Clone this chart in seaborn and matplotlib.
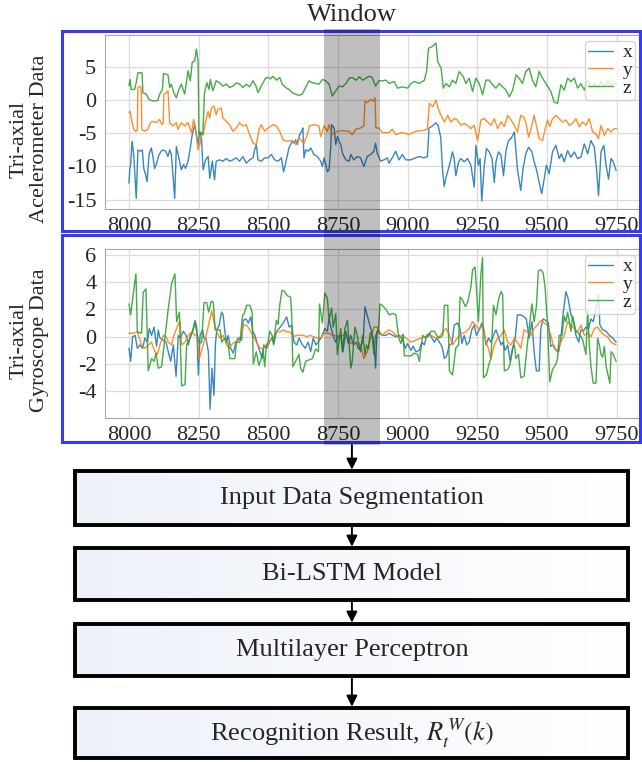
import numpy as np
import pandas as pd
import matplotlib
matplotlib.use("Agg")
import matplotlib.pyplot as plt
import seaborn as sns
from matplotlib.patches import Rectangle
from matplotlib.lines import Line2D

# ---------------- data ----------------
acc_z_t = [8000, 8004, 8008, 8020, 8026, 8032, 8047, 8050, 8062, 8072, 8086, 8104, 8110, 8120, 8124, 8140, 8146, 8152, 8161, 8170,
           8179, 8188, 8200, 8212, 8220, 8227, 8236, 8242, 8248, 8251, 8260, 8265, 8271, 8280, 8287, 8292, 8301, 8313, 8325, 8337,
           8349, 8361, 8373, 8385, 8397, 8409, 8421, 8433, 8445, 8455, 8463, 8472, 8481, 8490, 8499, 8508, 8517, 8529, 8541, 8550,
           8562, 8574, 8586, 8598, 8610, 8622, 8634, 8646, 8658, 8670, 8682, 8694, 8706, 8718, 8730, 8742, 8754, 8766, 8779, 8790,
           8801, 8815, 8827, 8839, 8851, 8861, 8873, 8885, 8897, 8909, 8922, 8934, 8952, 8964, 8982, 9000, 9012, 9024, 9042, 9060,
           9068, 9075, 9090, 9102, 9108, 9120, 9128, 9138, 9150, 9161, 9173, 9185, 9200, 9209, 9221, 9233, 9245, 9257, 9269, 9281,
           9293, 9305, 9317, 9329, 9341, 9353, 9365, 9377, 9389, 9400, 9412, 9424, 9436, 9448, 9460, 9472, 9484, 9496, 9514, 9526,
           9538, 9550, 9562, 9574, 9586, 9598, 9610, 9622, 9634, 9646, 9658, 9670, 9682, 9694, 9706, 9718, 9730, 9742, 9750]
acc_z = [2.2, 3.1, 1.6, 1.6, 2.6, 4.1, 4.1, 1.1, 0.9, 0.1, -0.15, -0.05, 0.9, 1.6, 4.0, 3.8, 1.9, 2.4, 1.1, 0.35,
         1.6, 2.4, 0.9, 4.4, 2.9, 5.7, 5.9, 7.7, 5.9, -5.2, -4.9, -5.2, 1.1, 2.6, 1.6, 3.1, 1.4, 2.9, 2.6, 2.1,
         2.4, 1.9, 2.1, 2.6, 2.4, 1.9, 2.4, 2.0, 2.9, 2.2, 1.1, 1.9, 2.6, 3.3, 3.4, 3.2, 3.6, 3.0, 3.4, 2.4,
         1.9, 1.6, 1.1, 0.9, 0.7, 0.9, 1.9, 2.9, 2.6, 2.5, 2.4, 3.1, 2.9, 2.4, 0.6, 1.4, 2.1, 2.0, 2.5, 3.3,
         3.4, 3.0, 3.5, 3.0, 3.3, 3.6, 3.4, 2.1, 2.9, 2.9, 3.0, 2.5, 2.8, 1.8, 2.0, 1.8, 2.5, 2.8, 2.5, 3.0,
         4.3, 7.8, 8.1, 8.6, 5.8, 4.8, 1.8, 2.5, 2.0, 3.0, 2.5, 4.3, 3.5, 2.5, 3.3, 1.3, 3.3, 2.5, 0.8, 3.0,
         3.0, 2.3, 1.8, 2.5, 2.0, 1.5, 0.5, 1.5, 3.8, 3.3, 2.5, 4.3, 4.8, 3.0, 2.0, 4.3, 3.3, 2.5, 1.3, -0.3,
         -0.5, 2.3, 1.5, 3.3, 2.8, 3.3, 1.8, 2.5, 1.5, 3.0, 1.8, 2.5, 1.8, 2.8, 2.0, 3.0, 2.2, 2.6, 2.4]

acc_y_t = [8000, 8004, 8010, 8017, 8024, 8030, 8032, 8041, 8044, 8046, 8056, 8068, 8077, 8086, 8098, 8110, 8118, 8123, 8125, 8134,
           8140, 8146, 8158, 8170, 8176, 8188, 8200, 8212, 8224, 8232, 8240, 8248, 8254, 8260, 8266, 8275, 8284, 8290, 8296, 8305,
           8313, 8319, 8331, 8337, 8349, 8361, 8373, 8385, 8397, 8409, 8421, 8433, 8445, 8457, 8467, 8475, 8487, 8499, 8517, 8529,
           8541, 8553, 8568, 8586, 8598, 8610, 8628, 8640, 8648, 8664, 8682, 8688, 8700, 8712, 8718, 8730, 8748, 8766, 8790, 8801,
           8813, 8831, 8843, 8847, 8855, 8867, 8877, 8883, 8886, 8897, 8909, 8933, 8945, 8957, 8981, 9005, 9029, 9053, 9071, 9078,
           9090, 9102, 9111, 9120, 9132, 9144, 9155, 9167, 9179, 9191, 9203, 9215, 9227, 9239, 9251, 9263, 9275, 9287, 9299, 9311,
           9323, 9335, 9347, 9359, 9371, 9383, 9394, 9406, 9416, 9424, 9434, 9446, 9454, 9462, 9472, 9484, 9494, 9502, 9510, 9520,
           9532, 9544, 9556, 9568, 9580, 9592, 9604, 9616, 9628, 9640, 9652, 9664, 9676, 9685, 9694, 9706, 9718, 9730, 9742, 9750]
acc_y = [-1.9, -1.7, -3.2, -4.4, -4.7, -4.6, 1.9, 2.1, 1.6, -4.4, -4.7, -4.4, -3.4, -3.2, -3.4, -2.9, -3.7, -3.5, 0.9, 1.1,
         1.4, -3.4, -3.9, -3.4, -4.4, -3.4, -3.9, -3.4, -4.9, -2.9, -4.7, -7.5, -6.7, -5.2, -5.2, -3.2, -1.7, -2.7, -1.2, -0.9,
         -2.2, -1.4, -1.2, -2.7, -3.2, -3.7, -4.7, -4.2, -3.4, -3.9, -3.7, -5.2, -6.5, -6.7, -4.4, -3.7, -4.7, -4.2, -3.7, -3.9,
         -4.7, -6.0, -6.2, -6.1, -6.7, -5.7, -6.5, -5.2, -3.9, -3.7, -3.9, -5.5, -3.9, -4.7, -3.7, -5.2, -4.7, -4.6, -4.7, -5.2,
         -4.4, -4.2, -3.9, -0.15, -0.4, 0.1, -0.15, 0.35, -4.2, -4.2, -4.9, -4.9, -4.4, -5.2, -4.9, -5.2, -4.7, -4.6, -4.4, -0.5,
         -1.0, 0.0, -1.5, -2.3, -3.3, -2.3, -3.3, -2.8, -3.0, -3.8, -3.5, -3.8, -4.3, -3.8, -6.1, -3.0, -2.8, -3.3, -3.8, -2.8,
         -4.3, -3.3, -4.0, -2.3, -3.0, -3.8, -4.8, -2.3, -2.5, -3.3, -5.6, -3.8, -2.3, -3.8, -5.8, -6.1, -4.3, -3.0, -4.0, -2.8,
         -2.3, -2.8, -3.3, -3.0, -3.8, -3.5, -2.8, -4.0, -3.3, -3.8, -2.8, -4.8, -5.1, -5.8, -3.8, -5.3, -4.3, -4.8, -4.3, -4.3]

acc_x_t = [8000, 8003, 8006, 8011, 8017, 8026, 8032, 8041, 8048, 8053, 8060, 8065, 8072, 8080, 8086, 8092, 8098, 8108, 8116, 8122,
           8132, 8140, 8146, 8152, 8158, 8164, 8170, 8179, 8188, 8196, 8203, 8212, 8220, 8227, 8236, 8242, 8248, 8254, 8260, 8266,
           8275, 8284, 8290, 8299, 8307, 8313, 8325, 8337, 8349, 8361, 8373, 8385, 8397, 8409, 8421, 8433, 8445, 8451, 8457, 8463,
           8475, 8487, 8499, 8511, 8523, 8535, 8547, 8555, 8565, 8574, 8580, 8586, 8592, 8598, 8604, 8612, 8620, 8624, 8628, 8634,
           8644, 8652, 8664, 8676, 8688, 8694, 8700, 8706, 8712, 8718, 8724, 8727, 8736, 8742, 8748, 8754, 8760, 8766, 8778, 8790,
           8796, 8807, 8819, 8831, 8843, 8855, 8867, 8879, 8885, 8891, 8903, 8915, 8927, 8933, 8945, 8957, 8969, 8981, 8993, 9011,
           9029, 9041, 9059, 9071, 9077, 9089, 9101, 9110, 9119, 9125, 9131, 9138, 9150, 9161, 9167, 9173, 9183, 9191, 9203, 9215,
           9227, 9239, 9245, 9254, 9260, 9266, 9275, 9283, 9293, 9303, 9311, 9317, 9326, 9335, 9344, 9353, 9362, 9371, 9383, 9394,
           9406, 9414, 9424, 9434, 9446, 9454, 9462, 9472, 9481, 9490, 9498, 9508, 9520, 9532, 9544, 9552, 9562, 9574, 9586, 9598,
           9610, 9622, 9634, 9646, 9658, 9670, 9678, 9685, 9694, 9704, 9712, 9721, 9730, 9738, 9748]
acc_x = [-12.5, -10.3, -9.7, -6.2, -8.2, -14.8, -7.5, -7.7, -7.5, -10.3, -11.3, -12.3, -8.2, -7.2, -8.5, -10.3, -9.7, -8.2, -7.7, -7.5,
         -7.7, -8.5, -7.5, -8.2, -11.3, -14.8, -7.0, -8.7, -10.5, -9.7, -10.3, -9.2, -7.2, -5.2, -3.7, -5.2, -6.7, -4.7, -5.7, -10.5,
         -9.0, -8.5, -11.8, -9.2, -12.0, -9.2, -9.0, -9.2, -8.8, -9.2, -9.0, -8.7, -9.2, -8.5, -9.5, -9.0, -8.7, -7.5, -6.7, -9.0,
         -9.2, -8.7, -8.7, -8.2, -9.0, -9.2, -8.7, -10.8, -9.0, -7.2, -6.7, -6.2, -6.5, -6.0, -6.7, -5.2, -4.7, -4.2, -8.7, -7.5,
         -7.7, -7.2, -8.2, -8.5, -9.2, -10.0, -8.7, -9.7, -10.8, -10.5, -7.2, -3.7, -4.2, -6.7, -5.5, -6.2, -6.7, -8.0, -9.0, -9.2,
         -8.2, -9.0, -8.5, -8.7, -10.0, -8.5, -8.2, -7.7, -6.5, -8.0, -9.2, -9.0, -8.7, -9.5, -8.7, -7.7, -9.0, -8.2, -9.0, -9.0,
         -8.7, -8.5, -8.7, -8.5, -4.2, -3.9, -3.4, -3.9, -5.7, -10.3, -13.0, -11.6, -9.8, -7.8, -8.8, -11.4, -9.3, -8.8, -9.3, -8.8,
         -9.8, -13.1, -6.8, -9.8, -8.8, -15.2, -9.8, -7.3, -7.8, -8.8, -12.4, -9.3, -7.8, -8.3, -11.4, -7.6, -6.1, -5.8, -4.8, -10.4,
         -13.6, -10.4, -8.1, -7.1, -7.8, -9.3, -10.4, -12.4, -14.1, -11.9, -9.8, -11.1, -7.8, -6.8, -8.8, -8.1, -9.3, -7.6, -8.6, -7.8,
         -8.8, -8.6, -6.6, -8.1, -6.1, -7.1, -10.4, -14.4, -7.8, -6.8, -9.8, -11.9, -8.8, -9.3, -10.6]

gyr_z_t = [8000, 8006, 8016, 8025, 8030, 8045, 8051, 8061, 8069, 8081, 8090, 8097, 8105, 8117, 8129, 8141, 8153, 8165, 8171, 8181,
           8189, 8201, 8207, 8219, 8228, 8237, 8243, 8252, 8261, 8269, 8279, 8286, 8295, 8303, 8309, 8327, 8333, 8344, 8356, 8362,
           8380, 8386, 8398, 8408, 8414, 8422, 8434, 8442, 8446, 8457, 8466, 8475, 8481, 8487, 8493, 8499, 8505, 8514, 8519, 8525,
           8529, 8535, 8541, 8549, 8559, 8568, 8580, 8584, 8588, 8598, 8610, 8616, 8624, 8634, 8646, 8658, 8670, 8680, 8684, 8694,
           8703, 8712, 8718, 8727, 8733, 8742, 8748, 8760, 8766, 8775, 8784, 8790, 8796, 8801, 8811, 8819, 8825, 8831, 8839, 8847,
           8852, 8859, 8865, 8871, 8879, 8885, 8895, 8901, 8909, 8922, 8934, 8946, 8958, 8968, 8976, 8984, 8988, 9000, 9012, 9024,
           9036, 9042, 9054, 9066, 9075, 9084, 9096, 9104, 9114, 9126, 9132, 9144, 9150, 9161, 9173, 9183, 9188, 9197, 9207, 9215,
           9227, 9233, 9242, 9247, 9254, 9263, 9269, 9272, 9283, 9293, 9299, 9308, 9317, 9326, 9335, 9341, 9347, 9359, 9368, 9377,
           9383, 9389, 9398, 9406, 9418, 9430, 9442, 9446, 9454, 9462, 9469, 9478, 9486, 9493, 9502, 9510, 9520, 9532, 9538, 9544,
           9554, 9562, 9568, 9574, 9580, 9586, 9592, 9604, 9616, 9628, 9640, 9646, 9652, 9658, 9666, 9676, 9682, 9688, 9694, 9700,
           9706, 9712, 9718, 9726, 9730, 9738, 9748]
gyr_z = [2.4, 1.6, 3.25, 4.6, 0.35, 0.25, 3.25, 3.5, -2.5, -1.6, -1.8, -1.2, -2.3, -2.2, -0.1, 2.05, 3.9, 4.6, 1.1, 1.8,
         -3.6, -3.5, -0.6, -0.1, 0.35, 1.0, 0.35, -0.5, -0.4, 2.5, 2.5, 1.8, 2.6, 2.5, 0.5, 0.5, -0.4, -0.1, -0.5, -1.6,
         -1.6, -0.4, -0.4, 1.6, 1.7, 2.3, 2.3, 1.8, -2.0, -1.1, -2.1, -1.6, -0.9, -2.2, -0.6, -0.4, 0.4, 0.1, -0.6, 0.6,
         1.2, 0.9, 2.3, 3.4, 3.3, 3.0, 2.9, 1.6, -2.2, -1.8, -1.3, -2.3, -2.6, -1.8, -1.7, -1.6, -0.9, -1.1, 2.4, 1.0,
         3.2, 2.8, 1.2, 2.1, 0.7, 1.7, -1.3, 0.6, -1.1, 0.6, 1.2, -0.6, -2.3, -1.8, 0.7, 0.1, -0.6, -1.1, 0.1, -1.3,
         -0.6, -0.9, 0.2, 0.4, -1.3, 0.1, 0.4, 2.4, 2.3, 2.0, 1.6, 1.7, 1.6, -0.1, -0.5, 0.2, -1.4, -1.4, -1.4, -1.2,
         -1.3, -1.8, 0.1, -0.1, 0.1, 0.4, 0.4, 0.1, -0.1, 0.1, 2.3, 2.3, -2.5, -2.8, -0.8, -0.6, 2.9, 2.7, 2.2, 2.5,
         3.6, 4.9, 5.1, 3.5, 1.1, 4.6, 5.8, -3.0, -2.8, -1.9, -1.6, 2.3, 1.6, 2.7, 3.3, 3.1, -2.5, -2.4, -2.0, -0.8,
         -0.6, -1.6, -1.3, -3.0, -2.9, -0.5, 1.7, 2.4, 1.1, 2.2, 4.8, 4.9, 4.7, 3.7, 1.0, -3.3, -2.4, -2.0, -1.6, 0.1,
         0.1, 1.5, 1.1, 1.8, 1.1, 0.4, 1.5, 0.4, 0.2, -0.2, -1.3, 2.0, -0.6, -2.2, -3.4, -3.4, -0.1, -0.6, -1.3, -1.5,
         -0.7, -2.1, -2.7, -3.4, -1.1, -1.3, -1.8]

gyr_x_t = [8000, 8006, 8013, 8022, 8030, 8039, 8049, 8057, 8066, 8073, 8081, 8090, 8099, 8105, 8111, 8123, 8133, 8141, 8150, 8159,
           8169, 8177, 8185, 8195, 8205, 8213, 8221, 8228, 8237, 8243, 8249, 8255, 8264, 8269, 8276, 8285, 8291, 8298, 8305, 8310,
           8315, 8324, 8332, 8338, 8344, 8350, 8356, 8365, 8374, 8384, 8392, 8404, 8410, 8420, 8428, 8437, 8444, 8452, 8460, 8470,
           8478, 8484, 8494, 8504, 8512, 8520, 8530, 8539, 8548, 8556, 8566, 8575, 8584, 8592, 8602, 8611, 8620, 8632, 8643, 8652,
           8661, 8671, 8679, 8689, 8703, 8712, 8718, 8727, 8736, 8742, 8751, 8760, 8768, 8778, 8787, 8796, 8805, 8815, 8824, 8832,
           8841, 8847, 8856, 8864, 8871, 8880, 8885, 8890, 8897, 8909, 8922, 8934, 8946, 8958, 8970, 8982, 8992, 9000, 9012, 9020,
           9030, 9042, 9051, 9060, 9068, 9078, 9087, 9096, 9104, 9114, 9123, 9132, 9140, 9150, 9159, 9167, 9179, 9188, 9195, 9203,
           9212, 9221, 9230, 9239, 9247, 9257, 9266, 9275, 9281, 9290, 9299, 9308, 9317, 9326, 9335, 9341, 9350, 9359, 9368, 9377,
           9386, 9394, 9406, 9418, 9426, 9436, 9446, 9454, 9462, 9472, 9478, 9486, 9496, 9505, 9514, 9523, 9532, 9542, 9550, 9558,
           9568, 9576, 9586, 9594, 9604, 9614, 9622, 9630, 9640, 9649, 9658, 9666, 9676, 9685, 9690, 9700, 9712, 9724, 9736, 9748]
gyr_x = [-0.85, -1.8, 0.0, 0.1, -0.85, -0.6, -0.85, -0.1, -0.4, 0.6, 0.1, 0.7, -0.7, 0.5, -0.1, -0.25, -0.4, -1.1, -1.8, -0.6,
         -2.9, 0.1, -0.1, 0.4, 0.1, -0.6, 0.1, 0.4, 1.2, 0.7, -2.8, 0.1, 0.5, -0.1, -0.1, -1.1, -5.3, -2.3, -4.3, -0.6,
         0.5, 0.85, 1.8, 1.6, 0.4, -0.4, 0.1, -0.85, -1.2, -0.4, -0.1, -0.25, 1.2, 1.3, 1.0, 1.45, 0.4, 0.1, -0.5, -1.1,
         -1.6, -0.6, -0.85, -0.4, -0.1, -0.5, 0.4, 0.6, 0.85, 1.1, 1.45, 0.7, 0.85, -0.4, -0.6, -0.1, -0.5, -0.85, -0.4, -1.1,
         -0.1, -0.6, -0.4, -0.1, 0.6, 0.4, 1.3, 0.5, -0.1, -0.4, 0.0, 0.1, -1.1, 0.4, -0.5, 0.1, -0.6, -0.4, -0.9, -0.7,
         -0.1, 2.2, 1.5, 0.85, 0.4, -0.6, -2.3, 0.4, 0.4, 0.1, 0.1, 0.25, 0.1, 0.0, 0.1, -0.25, -0.85, -0.5, -1.0, -0.7,
         -1.1, -1.0, -0.4, -0.6, 0.1, 0.25, -0.1, -0.4, -0.1, -0.4, -0.7, -1.6, -1.4, -0.6, -0.5, 0.85, 1.0, 0.6, -0.5, 0.1,
         -0.6, -0.4, 0.5, 0.85, 0.1, 0.5, 1.0, 0.4, -0.6, -0.1, -0.4, 0.1, 0.5, 0.0, -0.6, -0.4, -1.0, -0.6, -1.8, -0.85,
         -0.1, 1.6, 1.6, 1.45, 1.3, -0.1, 1.1, -1.1, -2.5, -2.5, 0.6, 1.3, 1.2, 1.0, -0.7, -0.6, -1.0, -1.1, -0.1, 1.7,
         3.3, 2.8, 1.6, 1.3, 0.1, -0.4, 0.5, 0.4, 0.7, 0.6, 1.3, 1.1, 2.0, 3.1, 0.85, 0.5, 0.4, 0.1, -0.1, -0.4]

gyr_y_t = [8000, 8015, 8030, 8045, 8057, 8069, 8081, 8093, 8102, 8111, 8123, 8133, 8141, 8153, 8161, 8171, 8178, 8183, 8189, 8201,
           8213, 8225, 8237, 8245, 8252, 8261, 8269, 8279, 8288, 8297, 8305, 8315, 8327, 8338, 8350, 8360, 8372, 8380, 8392, 8404,
           8410, 8422, 8434, 8444, 8458, 8470, 8482, 8494, 8506, 8518, 8530, 8542, 8554, 8566, 8578, 8590, 8602, 8614, 8626, 8638,
           8650, 8662, 8674, 8689, 8700, 8718, 8730, 8748, 8766, 8784, 8796, 8808, 8819, 8831, 8843, 8855, 8867, 8879, 8891, 8897,
           8909, 8922, 8934, 8946, 8958, 8970, 8982, 8994, 9012, 9030, 9048, 9066, 9084, 9102, 9114, 9126, 9138, 9150, 9161, 9173,
           9185, 9197, 9209, 9221, 9233, 9245, 9257, 9269, 9281, 9290, 9299, 9311, 9323, 9335, 9347, 9359, 9371, 9383, 9394, 9406,
           9418, 9430, 9442, 9454, 9466, 9478, 9490, 9502, 9514, 9526, 9538, 9550, 9562, 9574, 9586, 9598, 9610, 9622, 9634, 9646,
           9658, 9670, 9682, 9694, 9706, 9718, 9730, 9748]
gyr_y = [0.25, 0.25, 0.35, -0.6, -0.85, -0.6, -0.4, -1.1, -1.3, -0.6, 0.1, 0.0, -0.4, -0.6, 0.1, 0.6, 1.0, 1.1, -0.6, -0.4,
         0.1, 0.35, 0.1, 0.1, -1.6, -1.0, -0.4, 0.25, 1.1, 1.9, 1.1, 0.35, -0.1, 0.1, -0.6, -0.85, -0.5, -0.4, -0.25, 0.1,
         0.85, 0.85, 0.5, 0.1, -0.4, -0.85, -0.85, -0.7, -0.25, -0.1, 0.35, 0.35, 0.5, 0.35, 0.35, 0.0, 0.1, 0.1, 0.1, 0.0,
         0.1, 0.0, -0.1, -0.1, 0.25, 0.25, 0.1, 0.05, 0.1, 0.1, -0.5, -0.5, -0.4, -0.6, -1.6, -1.1, -0.1, 0.7, 0.7, 0.25,
         0.1, 0.35, 0.5, 0.35, 0.1, 0.0, 0.1, -0.1, -0.4, -0.25, -0.1, 0.0, 0.1, -0.1, 0.0, 0.35, 0.6, 0.1, -0.6, -0.25,
         0.1, 0.25, 0.35, 0.6, 1.1, 0.85, 0.5, 0.85, -0.4, -0.85, -1.6, -0.6, -0.1, 0.1, 0.5, -0.4, -0.6, -0.1, -0.4, -0.85,
         0.5, 0.35, 0.1, 0.6, 0.85, 1.2, 1.0, 0.85, 0.1, -0.85, -1.0, -0.4, 0.1, 1.1, 0.85, 0.6, 0.35, 0.85, 0.1, 0.25,
         0.0, 0.6, 0.7, 0.35, 0.1, 0.0, -0.4, -0.6]

axis_names = ["x", "y", "z"]
x_ticks = [8000, 8250, 8500, 8750, 9000, 9250, 9500, 9750]
acc_yticks = [-15, -10, -5, 0, 5]
gyr_yticks = [-4, -2, 0, 2, 4, 6]
window_range = [8700, 8900]
flow_steps = ["Input Data Segmentation", "Bi-LSTM Model", "Multilayer Perceptron",
              "Recognition Result, $R_t^{\\,W}(k)$"]
acc_label = "Tri-axial\nAcelerometer Data"
gyr_label = "Tri-axial\nGyroscope Data"

# ---------------- style ----------------
sns.set_style("whitegrid", {"grid.color": "0.86", "axes.edgecolor": "0.65"})
plt.rcParams["font.family"] = ["Liberation Serif", "DejaVu Serif"]
plt.rcParams["mathtext.fontset"] = "stix"

palette = ["#1f77b4", "#ff7f0e", "#2ca02c"]
W, H = 642, 762
fig = plt.figure(figsize=(W / 100, H / 100), dpi=100)


def px_axes(l, t, r, b):
    return fig.add_axes([l / W, 1 - b / H, (r - l) / W, (b - t) / H])


def long_df(series):
    frames = []
    for name, (t, v) in zip(axis_names, series):
        frames.append(pd.DataFrame({"t": t, "v": v, "axis": name}))
    return pd.concat(frames, ignore_index=True)


acc_df = long_df([(acc_x_t, acc_x), (acc_y_t, acc_y), (acc_z_t, acc_z)])
gyr_df = long_df([(gyr_x_t, gyr_x), (gyr_y_t, gyr_y), (gyr_z_t, gyr_z)])

ax1 = px_axes(104.6, 35, 641, 209)
ax2 = px_axes(104.6, 249, 641, 418)

for ax, df, yt, ylim in [(ax1, acc_df, acc_yticks, (-16.4, 9.8)),
                         (ax2, gyr_df, gyr_yticks, (-5.95, 6.42))]:
    sns.lineplot(data=df, x="t", y="v", hue="axis", hue_order=axis_names, palette=palette,
                 estimator=None, sort=True, lw=1.0, alpha=0.88, ax=ax, legend=False)
    ax.set_xlim(7912.5, 9837.5)
    ax.set_ylim(*ylim)
    ax.set_xticks(x_ticks)
    ax.set_yticks(yt)
    ax.set_yticklabels([str(v) for v in yt])
    ax.set_xlabel("")
    ax.set_ylabel("")
    ax.tick_params(labelsize=16, pad=2.5)
    ax.grid(True, lw=0.9)
    handles = [Line2D([], [], color=c, lw=1.0, alpha=0.88) for c in palette]
    ax.legend(handles, axis_names, loc="upper right", fontsize=14, labelspacing=0.0,
              borderpad=0.15, handlelength=1.3, handletextpad=0.5, borderaxespad=0.3,
              framealpha=0.8, edgecolor="0.8", fancybox=True)

fig.text(29.5 / W, 1 - 139 / H, acc_label, rotation=90, ha="center", va="center",
         fontsize=16, linespacing=1.1, multialignment="center")
fig.text(29.5 / W, 1 - 340 / H, gyr_label, rotation=90, ha="center", va="center",
         fontsize=16, linespacing=1.1, multialignment="center")

# ---------------- overlay (pixel coordinates) ----------------
ov = fig.add_axes([0, 0, 1, 1], zorder=10)
ov.patch.set_alpha(0)
ov.axis("off")

blue = "#3a3af2"
ov.add_patch(Rectangle((62, 31), 578, 200, fill=False, ec=blue, lw=2.2, zorder=2))
ov.add_patch(Rectangle((62, 235), 578, 207, fill=False, ec=blue, lw=2.2, zorder=2))

wx0 = ax1.transData.transform((window_range[0], 0))[0]
wx1 = ax1.transData.transform((window_range[1], 0))[0]
xc = (wx0 + wx1) / 2
ov.add_patch(Rectangle((wx0, 29), wx1 - wx0, 445 - 29, fc="black", alpha=0.25, lw=0, zorder=3))
ov.text(xc, 15, "Window", ha="center", va="center", fontsize=19, zorder=4)

boxes = [(471, 525), (548, 600), (624, 676), (708, 758)]
grad = np.linspace(0, 1, 256)
left_c = np.array([0.93, 0.945, 0.975])
img = (left_c[None, :] * (1 - grad[:, None]) + grad[:, None]).reshape(1, 256, 3)
for (top, bot), label in zip(boxes, flow_steps):
    ov.imshow(img, extent=(75, 628, bot, top), aspect="auto", zorder=2, interpolation="bilinear")
    ov.add_patch(Rectangle((75, top), 553, bot - top, fill=False, ec="black", lw=2.8, zorder=3))
    ov.text(xc, (top + bot) / 2, label, ha="center", va="center", fontsize=19, zorder=4)

arrow_segments = [(445, 471), (525, 548), (600, 624), (676, 708)]
for y0, y1 in arrow_segments:
    ov.annotate("", xy=(xc, y1), xytext=(xc, y0),
                arrowprops=dict(arrowstyle="-|>", color="black", lw=1.4,
                                mutation_scale=16, shrinkA=0, shrinkB=1))

ov.set_xlim(0, W)
ov.set_ylim(H, 0)

fig.savefig("out.png", dpi=100)
